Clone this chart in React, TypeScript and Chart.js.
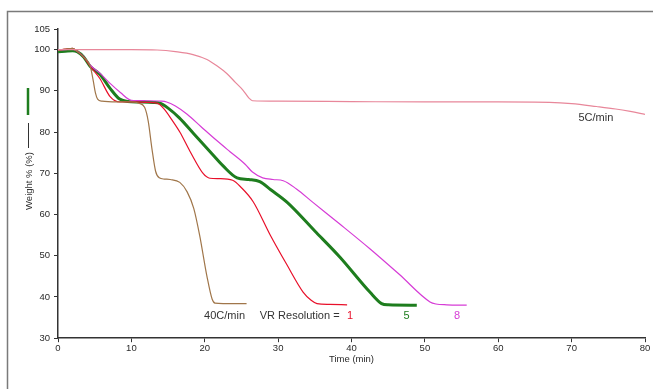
import React, { useEffect, useRef } from "react";
import { Chart, registerables } from "chart.js";

Chart.register(...registerables);

// 40C/min (brown)
const brownT = [0, 1, 2, 2.6, 3.5, 4.4, 4.8, 5.1, 5.4, 6, 8, 10, 11, 11.8, 12.3, 12.8, 13.3, 13.8, 14.5, 15.3, 16.6, 17.6, 18.5, 19.3, 20.3, 21, 21.4, 22.5, 25.7];
const brownW = [99.8, 100.1, 100.3, 99.6, 98.2, 95.9, 92.5, 89.5, 88, 87.5, 87.3, 87.3, 87, 86, 82.6, 76, 70.5, 68.9, 68.6, 68.5, 67.8, 65.5, 61.5, 55, 45, 39.5, 38.5, 38.4, 38.4];

// VR Resolution 1 (red)
const redT = [0, 1, 2, 2.6, 3.5, 4.4, 5.7, 7.1, 8.4, 10, 12, 13.5, 14.5, 15.5, 16.6, 18, 19.8, 20.7, 22, 23.8, 25, 26.6, 28.9, 31.2, 33.4, 34.5, 35.3, 37, 39.4];
const redW = [99.8, 100.1, 100.3, 99.6, 98.2, 95.9, 93, 88.6, 87.3, 87.3, 87.2, 87, 85.5, 83, 80, 75.3, 69.9, 68.8, 68.7, 68.3, 66.5, 63.1, 55.1, 47.8, 41.2, 39.2, 38.4, 38.2, 38.1];

// VR Resolution 5 (green)
const greenT = [0, 1, 2, 2.6, 3.5, 4.4, 5.7, 7.1, 8.4, 9.5, 11, 13, 13.9, 15, 16.5, 18.5, 20.7, 22.5, 24.4, 26, 27.5, 29, 31.2, 35, 38.4, 42.5, 44.1, 45, 48.9];
const greenW = [99.5, 99.6, 99.7, 99.5, 98.2, 95.9, 94, 90.6, 88, 87.4, 87.3, 87.2, 87, 85.8, 83.5, 79.6, 75.3, 71.8, 68.9, 68.5, 68, 66, 63, 56, 49.7, 41.2, 38.4, 38.1, 38];

// VR Resolution 8 (magenta)
const magT = [0, 1, 2, 2.6, 3.5, 4.4, 5.7, 7.1, 8.5, 10, 12, 14, 14.8, 16, 17.6, 19.5, 21.6, 23.4, 25.5, 26.5, 27.9, 29.3, 30.7, 32.5, 34.7, 38.4, 42.5, 46.5, 50.7, 51.5, 53, 55.7];
const magW = [99.9, 100, 100.1, 99.6, 98.3, 96.2, 94.3, 91.8, 89.6, 87.7, 87.6, 87.5, 87.3, 86.3, 84.3, 81.3, 78, 75.3, 72.2, 70.3, 68.9, 68.5, 68.2, 66.2, 63, 57.7, 51.7, 45.5, 38.8, 38.3, 38.1, 38];

// 5C/min (pink)
const pinkT = [0, 5, 10, 13.5, 16, 18.4, 20.3, 21.7, 23, 24.2, 25.2, 26, 26.5, 30, 40, 50, 60, 67, 70, 73.4, 76, 78, 80];
const pinkW = [100, 100, 100, 99.9, 99.5, 98.8, 97.6, 96, 94.2, 92, 90.2, 88.3, 87.6, 87.5, 87.4, 87.3, 87.3, 87.2, 86.9, 86.2, 85.6, 85, 84.3];

const xTicks = [0, 10, 20, 30, 40, 50, 60, 70, 80];
const yTicks = [30, 40, 50, 60, 70, 80, 90, 100, 105];

const labels = [
  { text: "40C/min", t: 22.7, w: 35.3, color: "#333333", align: "center" },
  { text: "VR Resolution =", t: 27.5, w: 35.3, color: "#333333", align: "left" },
  { text: "1", t: 39.8, w: 35.3, color: "#e8102a", align: "center" },
  { text: "5", t: 47.5, w: 35.3, color: "#1e7d1e", align: "center" },
  { text: "8", t: 54.4, w: 35.3, color: "#d63cd6", align: "center" },
  { text: "5C/min", t: 73.3, w: 83.5, color: "#333333", align: "center" },
];

const toPts = (t: number[], w: number[]) => t.map((x, i) => ({ x, y: w[i] }));

const FONT = "Liberation Sans, Arial, sans-serif";

export default function App() {
  const ref = useRef<HTMLCanvasElement>(null);
  useEffect(() => {
    document.body.style.margin = "0";
    const canvas = ref.current!;
    const ds = (data: any, color: string, width: number) => ({
      data,
      borderColor: color,
      backgroundColor: color,
      borderWidth: width,
      pointRadius: 0,
      showLine: true,
      cubicInterpolationMode: "monotone" as const,
      fill: false,
    });
    const decor = {
      id: "decor",
      beforeDraw(chart: any) {
        const ctx = chart.ctx;
        ctx.save();
        ctx.fillStyle = "#ffffff";
        ctx.fillRect(0, 0, chart.width, chart.height);
        ctx.strokeStyle = "#7a7a7a";
        ctx.lineWidth = 1.5;
        ctx.strokeRect(7.5, 11.5, 700, 500);
        ctx.restore();
      },
      afterDraw(chart: any) {
        const ctx = chart.ctx;
        const xs = chart.scales.x;
        const ys = chart.scales.y;
        ctx.save();
        // y-axis title with line keys
        ctx.strokeStyle = "#1e7d1e";
        ctx.lineWidth = 2.5;
        ctx.beginPath();
        ctx.moveTo(28, 88);
        ctx.lineTo(28, 115);
        ctx.stroke();
        ctx.strokeStyle = "#333333";
        ctx.lineWidth = 1;
        ctx.beginPath();
        ctx.moveTo(28.5, 123);
        ctx.lineTo(28.5, 148);
        ctx.stroke();
        ctx.translate(29, 181);
        ctx.rotate(-Math.PI / 2);
        ctx.fillStyle = "#333333";
        ctx.font = `9.5px ${FONT}`;
        ctx.textAlign = "center";
        ctx.textBaseline = "middle";
        ctx.fillText("Weight % (%)", 0, 0);
        ctx.restore();
        ctx.save();
        ctx.font = `11px ${FONT}`;
        ctx.textBaseline = "middle";
        for (const l of labels) {
          ctx.fillStyle = l.color;
          ctx.textAlign = l.align as CanvasTextAlign;
          ctx.fillText(l.text, xs.getPixelForValue(l.t), ys.getPixelForValue(l.w));
        }
        ctx.restore();
      },
    };
    const chart = new Chart(canvas, {
      type: "scatter",
      data: {
        datasets: [
          ds(toPts(pinkT, pinkW), "#e8879a", 1.2),
          ds(toPts(brownT, brownW), "#a0764a", 1.2),
          ds(toPts(redT, redW), "#e8102a", 1.2),
          ds(toPts(magT, magW), "#d63cd6", 1.2),
          ds(toPts(greenT, greenW), "#1e7d1e", 3),
        ],
      },
      options: {
        responsive: false,
        animation: false,
        layout: { padding: { left: 0, right: 8, top: 29, bottom: 20 } },
        plugins: { legend: { display: false }, tooltip: { enabled: false } },
        scales: {
          x: {
            type: "linear",
            min: 0,
            max: 80,
            afterBuildTicks: (s: any) => {
              s.ticks = xTicks.map((v) => ({ value: v }));
            },
            grid: { drawOnChartArea: false, drawTicks: true, tickLength: 4, color: "#333333" },
            border: { color: "#333333", width: 1.5 },
            ticks: { color: "#2a2a2a", font: { family: FONT, size: 9.5 }, padding: 0, maxRotation: 0 },
            title: { display: true, text: "Time (min)", color: "#2a2a2a", font: { family: FONT, size: 9.5 }, padding: { top: 0, bottom: 4 } },
          },
          y: {
            type: "linear",
            min: 30,
            max: 105,
            afterBuildTicks: (s: any) => {
              s.ticks = yTicks.map((v) => ({ value: v }));
            },
            afterFit: (s: any) => {
              s.width = 58;
            },
            grid: { drawOnChartArea: false, drawTicks: true, tickLength: 4, color: "#333333" },
            border: { color: "#333333", width: 1.5 },
            ticks: { color: "#2a2a2a", font: { family: FONT, size: 9.5 }, padding: 4 },
          },
        },
      },
      plugins: [decor],
    } as any);
    return () => chart.destroy();
  }, []);
  return <canvas ref={ref} width={653} height={389} style={{ display: "block" }} />;
}
